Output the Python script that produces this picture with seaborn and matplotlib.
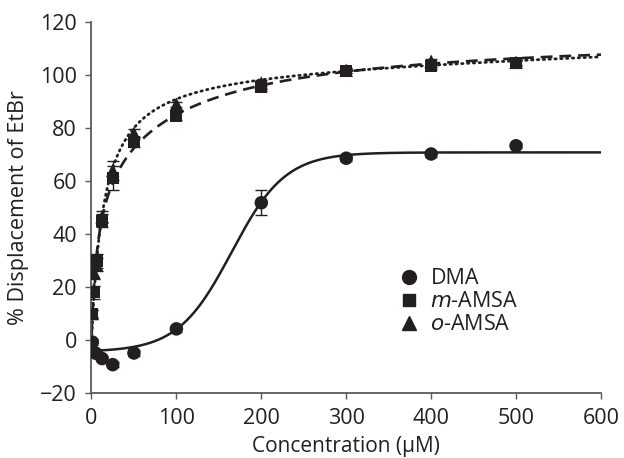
import numpy as np
import pandas as pd
import matplotlib
matplotlib.use("Agg")
import matplotlib.pyplot as plt
import seaborn as sns
from matplotlib.lines import Line2D

# ---- data ----
dma_x = [1, 5, 12.5, 25, 50, 100, 200, 300, 400, 500]
dma_y = [-0.8, -5.0, -7.0, -9.3, -4.9, 4.2, 51.8, 68.6, 70.2, 73.3]
dma_err = [1.0, 1.0, 1.0, 1.0, 1.0, 1.0, 4.7, 1.0, 1.0, 1.0]

mamsa_x = [1, 3, 6, 12.5, 25, 50, 100, 200, 300, 400, 500]
mamsa_y = [9.7, 18.0, 29.8, 45.0, 61.0, 74.8, 84.5, 95.6, 101.6, 103.4, 104.4]
mamsa_err = [1.5, 2.5, 2.5, 2.5, 4.5, 2.0, 1.5, 1.5, 1.0, 1.0, 1.0]

oamsa_x = [1, 3, 6, 12.5, 25, 50, 100, 200, 300, 400, 500]
oamsa_y = [10.0, 25.5, 28.5, 46.5, 64.0, 78.0, 89.0, 97.0, 101.8, 105.2, 104.8]
oamsa_err = [1.5, 2.5, 2.5, 2.0, 3.5, 1.5, 1.0, 1.0, 1.0, 1.0, 1.0]

# fitted-curve parameters
dma_fit = dict(bottom=-4.5, top=70.8, x0=165.0, dx=31.6)            # Boltzmann
mamsa_fit = dict(b1=60.0, k1=6.5, b2=56.0, k2=95.0)                  # two-site
oamsa_fit = dict(bmax=103.4, k=15.0, ns=0.01)                        # one site + NS

x_ticks = [0, 100, 200, 300, 400, 500, 600]
y_ticks = [-20, 0, 20, 40, 60, 80, 100, 120]

sns.set_theme(style="white")
plt.rcParams['font.family'] = ['Open Sans', 'DejaVu Sans']

FS = 15.5
fig = plt.figure(figsize=(6.24, 4.58), dpi=100)
ax = fig.add_axes([0.1466, 0.1419, 0.8165, 0.810])

xs = np.linspace(0.3, 600, 1200)
dma_curve = dma_fit['bottom'] + (dma_fit['top'] - dma_fit['bottom']) / (
    1 + np.exp((dma_fit['x0'] - xs) / dma_fit['dx']))
mamsa_curve = (mamsa_fit['b1'] * xs / (mamsa_fit['k1'] + xs)
               + mamsa_fit['b2'] * xs / (mamsa_fit['k2'] + xs))
oamsa_curve = oamsa_fit['bmax'] * xs / (oamsa_fit['k'] + xs) + oamsa_fit['ns'] * xs

ink = '#231f20'
curves = pd.DataFrame({'x': xs, 'dma': dma_curve, 'm': mamsa_curve, 'o': oamsa_curve})
sns.lineplot(data=curves, x='x', y='dma', ax=ax, color=ink, lw=1.8)
sns.lineplot(data=curves, x='x', y='m', ax=ax, color=ink, lw=1.9)
sns.lineplot(data=curves, x='x', y='o', ax=ax, color=ink, lw=2.0)
lines = ax.get_lines()
lines[1].set_dashes((4.5, 2.6))
lines[2].set_dashes((0.5, 1.6))
lines[2].set_dash_capstyle('round')

# error bars
for xv, yv, ev in [(oamsa_x, oamsa_y, oamsa_err), (mamsa_x, mamsa_y, mamsa_err), (dma_x, dma_y, dma_err)]:
    ax.errorbar(xv, yv, yerr=ev, fmt='none', ecolor=ink, elinewidth=1.0, capsize=4, capthick=1.0, zorder=3)

df_o = pd.DataFrame({'x': oamsa_x, 'y': oamsa_y})
df_m = pd.DataFrame({'x': mamsa_x, 'y': mamsa_y})
df_d = pd.DataFrame({'x': dma_x, 'y': dma_y})
sns.scatterplot(data=df_o, x='x', y='y', ax=ax, marker='^', s=95, color=ink, edgecolor='none', zorder=4)
sns.scatterplot(data=df_m, x='x', y='y', ax=ax, marker='s', s=75, color=ink, edgecolor='none', zorder=5)
sns.scatterplot(data=df_d, x='x', y='y', ax=ax, marker='o', s=95, color=ink, edgecolor='none', zorder=5)

ax.set_xlim(0, 600)
ax.set_ylim(-20, 120)
ax.set_xticks(x_ticks)
ax.set_yticks(y_ticks)
ax.set_yticklabels(['\u221220' if t < 0 else str(t) for t in y_ticks])
ax.set_xlabel('Concentration (\u03bcM)', fontsize=15, color=ink, labelpad=5)
ax.set_ylabel('% Displacement of EtBr', fontsize=FS, color=ink, labelpad=8)

spine_c = '#5a5a5a'
for s in ['top', 'right']:
    ax.spines[s].set_visible(False)
for s in ['left', 'bottom']:
    ax.spines[s].set_color(spine_c)
    ax.spines[s].set_linewidth(1.3)
ax.tick_params(axis='both', direction='out', length=4.5, width=1.0, color=spine_c,
               labelsize=FS, labelcolor=ink, left=True, bottom=True)
ax.tick_params(axis='y', pad=6)
ax.tick_params(axis='x', pad=6)

handles = [
    Line2D([], [], marker='o', ls='none', color=ink, markersize=10),
    Line2D([], [], marker='s', ls='none', color=ink, markersize=8.5),
    Line2D([], [], marker='^', ls='none', color=ink, markersize=10),
]
labels = ['DMA', '$\\it{m}$-AMSA', '$\\it{o}$-AMSA']
leg = ax.legend(handles, labels, loc='upper left', bbox_to_anchor=(0.583, 0.36),
                frameon=False, fontsize=FS, handletextpad=0.45, labelspacing=0.1,
                borderaxespad=0, handlelength=1.1)
for t in leg.get_texts():
    t.set_color(ink)

fig.savefig('out.png', dpi=100)
